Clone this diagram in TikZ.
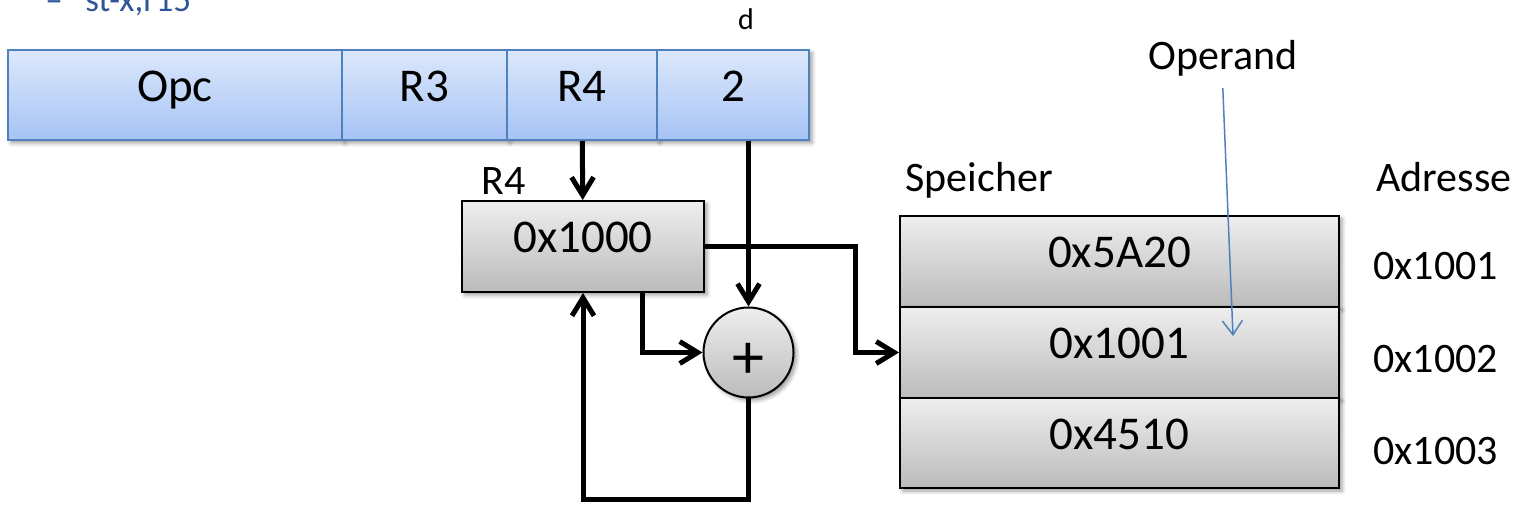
\documentclass[tikz,border=0pt]{standalone}
\usepackage{fontspec}
\setmainfont{Carlito}
\usetikzlibrary{arrows.meta,shadows.blur,positioning}

\definecolor{fieldtop}{HTML}{DCE8FC}
\definecolor{fieldbot}{HTML}{A6C3F4}
\definecolor{fieldline}{HTML}{4F81BD}
\definecolor{celltop}{HTML}{EEEEEE}
\definecolor{cellbot}{HTML}{BBBBBB}
\definecolor{bulletblue}{HTML}{2E5597}

\tikzset{
  softshadow/.style={blur shadow={shadow xshift=1.5pt,shadow yshift=-1.5pt,shadow blur radius=2pt,shadow opacity=40}},
  field/.style={draw=fieldline,line width=1pt,top color=fieldtop,bottom color=fieldbot,minimum height=45pt,
    inner sep=0pt,text height=14.5pt,text depth=8pt,font=\fontsize{23.5}{26}\selectfont,softshadow},
  cell/.style={draw=black,line width=1pt,top color=celltop,bottom color=cellbot,minimum height=45.5pt,
    inner sep=0pt,text height=14.5pt,text depth=8pt,font=\fontsize{23.5}{26}\selectfont,softshadow},
  lbl/.style={inner sep=0pt,font=\fontsize{21}{24}\selectfont},
  bus/.style={line width=2.5pt,-{Straight Barb[length=9pt,width=11pt]}},
  pointer/.style={draw=fieldline,line width=0.75pt,-{Straight Barb[length=7pt,width=10pt]}}
}

\begin{document}
\begin{tikzpicture}[x=0.5pt,y=-0.5pt]
  \clip (0,0) rectangle (1513,506);

  \draw (45,12) node[anchor=base west,inner sep=0pt,text=bulletblue,font=\fontsize{17.5}{20}\selectfont] (dash) {\textendash};
  \draw (85,12) node[anchor=base west,inner sep=0pt,text=bulletblue,font=\fontsize{17.5}{20}\selectfont] (cmd) {st-x,r15};

  % instruction word
  \draw (175,95) node[field,minimum width=167pt] (opc) {Opc};
  \draw (424.5,95) node[field,minimum width=82.5pt] (rthree) {R3};
  \draw (582,95) node[field,minimum width=75pt] (rfour) {R4};
  \draw (733,95) node[field,minimum width=76pt] (disp) {2};
  \draw (746,30) node[anchor=base,inner sep=0pt,font=\fontsize{15}{18}\selectfont] (dname) {d};

  % register and adder
  \draw (504,181) node[lbl] (regname) {R4};
  \draw (583,246.5) node[cell,minimum width=121pt] (reg) {0x1000};
  \draw (748.5,352.5) node[cell,circle,minimum size=45pt,text height=26pt,text depth=0pt,
    font=\fontsize{32}{34}\selectfont] (add) {+\hspace{10pt}};

  % memory
  \draw (905,192) node[lbl,anchor=base west] (speicher) {Speicher};
  \draw (1376,192) node[lbl,anchor=base west] (adresse) {Adresse};
  \draw (1119.5,261.5) node[cell,minimum width=219.5pt] (mem1) {0x5A20};
  \draw (1119.5,352.5) node[cell,minimum width=219.5pt] (mem2) {0x1001};
  \draw (1119.5,443) node[cell,minimum width=219.5pt,minimum height=45pt] (mem3) {0x4510};
  \draw (1373,280) node[lbl,anchor=base west] (addr1) {0x1001};
  \draw (1373,373) node[lbl,anchor=base west] (addr2) {0x1002};
  \draw (1373,465) node[lbl,anchor=base west] (addr3) {0x1003};
  \draw (1148,70) node[lbl,anchor=base west] (operand) {Operand};

  \coordinate (jog) at (855,352.5);
  \coordinate (back) at (583,500);
  \coordinate (target) at (1233,336);

  \path[bus] (rfour) edge (reg);
  \draw[bus] (disp.south -| add.north) -- (add.north);
  \draw[bus] ([xshift=29.5pt]reg.south) |- (add.west);
  \draw[bus] (add.south) |- (back) -- (reg.south);
  \draw[bus] (reg.east) -| (jog) -- (mem2.west);
  \draw[pointer] ([yshift=-5.5pt]operand.south) -- (target);
\end{tikzpicture}
\end{document}
